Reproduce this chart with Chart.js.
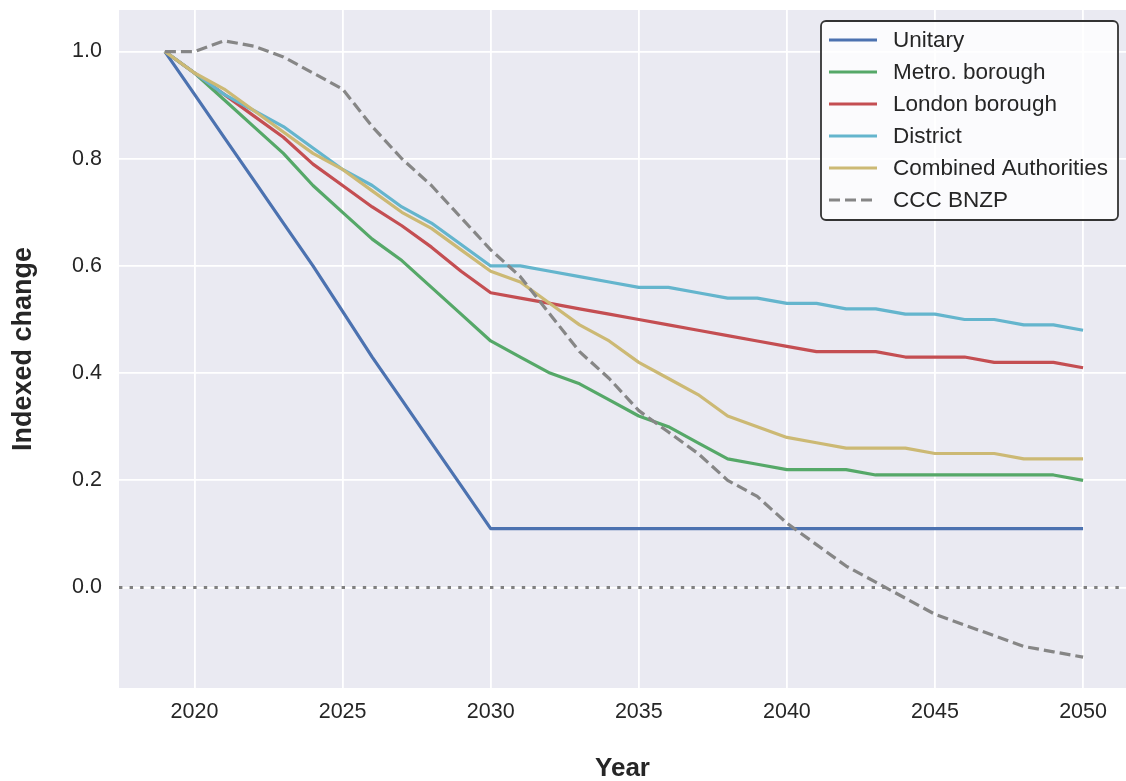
<!DOCTYPE html>
<html>
<head>
<meta charset="utf-8">
<script src="https://cdn.jsdelivr.net/npm/chart.js@4/dist/chart.umd.min.js"></script>
<style>
  html, body { margin: 0; padding: 0; background: #ffffff; overflow: hidden; }
  #wrap { position: relative; width: 1126px; height: 781px; }
</style>
</head>
<body>
<div id="wrap"><canvas id="chart"></canvas></div>
<script>
// Years covered by every series
const years = [2019, 2020, 2021, 2022, 2023, 2024, 2025, 2026, 2027, 2028, 2029, 2030,
  2031, 2032, 2033, 2034, 2035, 2036, 2037, 2038, 2039, 2040,
  2041, 2042, 2043, 2044, 2045, 2046, 2047, 2048, 2049, 2050];

// Indexed emissions by authority type (2019 = 1.0)
const unitary = [1.00, 0.92, 0.84, 0.76, 0.68, 0.60, 0.515, 0.43, 0.35, 0.27, 0.19, 0.11,
  0.11, 0.11, 0.11, 0.11, 0.11, 0.11, 0.11, 0.11, 0.11, 0.11,
  0.11, 0.11, 0.11, 0.11, 0.11, 0.11, 0.11, 0.11, 0.11, 0.11];
const metroBorough = [1.00, 0.96, 0.91, 0.86, 0.81, 0.75, 0.70, 0.65, 0.61, 0.56, 0.51, 0.46,
  0.43, 0.40, 0.38, 0.35, 0.32, 0.30, 0.27, 0.24, 0.23, 0.22,
  0.22, 0.22, 0.21, 0.21, 0.21, 0.21, 0.21, 0.21, 0.21, 0.20];
const londonBorough = [1.00, 0.96, 0.92, 0.88, 0.84, 0.79, 0.75, 0.71, 0.675, 0.635, 0.59, 0.55,
  0.54, 0.53, 0.52, 0.51, 0.50, 0.49, 0.48, 0.47, 0.46, 0.45,
  0.44, 0.44, 0.44, 0.43, 0.43, 0.43, 0.42, 0.42, 0.42, 0.41];
const district = [1.00, 0.96, 0.92, 0.89, 0.86, 0.82, 0.78, 0.75, 0.71, 0.68, 0.64, 0.60,
  0.60, 0.59, 0.58, 0.57, 0.56, 0.56, 0.55, 0.54, 0.54, 0.53,
  0.53, 0.52, 0.52, 0.51, 0.51, 0.50, 0.50, 0.49, 0.49, 0.48];
const combinedAuthorities = [1.00, 0.96, 0.93, 0.89, 0.85, 0.81, 0.78, 0.74, 0.70, 0.67, 0.63, 0.59,
  0.57, 0.53, 0.49, 0.46, 0.42, 0.39, 0.36, 0.32, 0.30, 0.28,
  0.27, 0.26, 0.26, 0.26, 0.25, 0.25, 0.25, 0.24, 0.24, 0.24];
const cccBnzp = [1.00, 1.00, 1.02, 1.01, 0.99, 0.96, 0.93, 0.86, 0.80, 0.75, 0.69, 0.63,
  0.58, 0.51, 0.44, 0.39, 0.33, 0.29, 0.25, 0.20, 0.17, 0.12,
  0.08, 0.04, 0.01, -0.02, -0.05, -0.07, -0.09, -0.11, -0.12, -0.13];

const seriesNames = ['Unitary', 'Metro. borough', 'London borough', 'District', 'Combined Authorities', 'CCC BNZP'];
const seriesValues = [unitary, metroBorough, londonBorough, district, combinedAuthorities, cccBnzp];
const seriesColors = ['#4C72B0', '#55A868', '#C44E52', '#64B5CD', '#CCB974', '#868686'];
const seriesDashes = [[], [], [], [], [], [11, 5]];

// Tick values and the reference level
const xTickStep = 5;
const yTickStep = 0.2;
const referenceLevel = 0;

const TEXT = '#262626';
const FONT = "'Liberation Sans', Arial, sans-serif";

const datasets = seriesNames.map((name, i) => ({
  label: name,
  data: years.map((yr, k) => ({ x: yr, y: seriesValues[i][k] })),
  borderColor: seriesColors[i],
  backgroundColor: seriesColors[i],
  borderWidth: 3.2,
  borderDash: seriesDashes[i],
  borderCapStyle: 'butt',
  borderJoinStyle: 'round',
  pointRadius: 0,
  pointHoverRadius: 0,
  tension: 0,
  fill: false,
  order: seriesNames.length - 1 - i
}));

// Shaded plotting area
const areaBackground = {
  id: 'areaBackground',
  beforeDraw(chart) {
    const { ctx, chartArea: a } = chart;
    ctx.save();
    ctx.fillStyle = '#EAEAF2';
    ctx.fillRect(a.left, a.top, a.right - a.left, a.bottom - a.top);
    ctx.restore();
  }
};

// Dotted horizontal line at the reference level
const referenceLine = {
  id: 'referenceLine',
  beforeDatasetsDraw(chart) {
    const { ctx, chartArea: a, scales } = chart;
    const y = scales.y.getPixelForValue(referenceLevel);
    ctx.save();
    ctx.strokeStyle = '#808080';
    ctx.lineWidth = 3.2;
    ctx.setLineDash([3.4, 7.2]);
    ctx.lineCap = 'butt';
    ctx.beginPath();
    ctx.moveTo(a.left, y);
    ctx.lineTo(a.right, y);
    ctx.stroke();
    ctx.restore();
  }
};

// Framed legend in the upper right corner
const boxedLegend = {
  id: 'boxedLegend',
  afterDatasetsDraw(chart) {
    const { ctx } = chart;
    const x0 = 821, y0 = 21, w = 297, h = 199, r = 5;
    ctx.save();
    ctx.beginPath();
    ctx.roundRect(x0, y0, w, h, r);
    ctx.fillStyle = 'rgba(255,255,255,0.82)';
    ctx.fill();
    ctx.lineWidth = 1.8;
    ctx.strokeStyle = '#333333';
    ctx.stroke();
    ctx.font = '22.5px ' + FONT;
    ctx.textBaseline = 'middle';
    ctx.textAlign = 'left';
    chart.data.datasets.forEach((ds, i) => {
      const cy = 40 + i * 32;
      ctx.strokeStyle = ds.borderColor;
      ctx.lineWidth = 3.2;
      ctx.setLineDash(ds.borderDash || []);
      ctx.lineCap = 'butt';
      ctx.beginPath();
      ctx.moveTo(829, cy);
      ctx.lineTo(877, cy);
      ctx.stroke();
      ctx.setLineDash([]);
      ctx.fillStyle = TEXT;
      ctx.fillText(ds.label, 893, cy + 1);
    });
    ctx.restore();
  }
};

new Chart(document.getElementById('chart'), {
  type: 'line',
  data: { datasets },
  options: {
    responsive: true,
    maintainAspectRatio: false,
    animation: false,
    events: [],
    layout: { padding: { top: 10, right: 0, bottom: 0, left: 0 } },
    plugins: {
      legend: { display: false },
      tooltip: { enabled: false }
    },
    scales: {
      x: {
        type: 'linear',
        min: 2017.45,
        max: 2051.45,
        afterFit(scale) {
          scale.height = 93;
          scale.paddingLeft = 0;
          scale.paddingRight = 0;
        },
        border: { display: false },
        grid: { color: '#ffffff', lineWidth: 1.8, drawTicks: false },
        ticks: {
          stepSize: xTickStep,
          includeBounds: false,
          padding: 11,
          color: TEXT,
          font: { family: FONT, size: 21.5 },
          maxRotation: 0,
          callback: v => String(v)
        },
        title: {
          display: true,
          text: 'Year',
          color: TEXT,
          font: { family: FONT, size: 26, weight: 'bold', lineHeight: 1.0 },
          padding: { top: 0, bottom: -1 }
        }
      },
      y: {
        type: 'linear',
        min: -0.1875,
        max: 1.0775,
        afterFit(scale) {
          scale.width = 119;
          scale.paddingTop = 0;
          scale.paddingBottom = 0;
        },
        border: { display: false },
        grid: { color: '#ffffff', lineWidth: 1.8, drawTicks: false },
        ticks: {
          stepSize: yTickStep,
          includeBounds: false,
          padding: 17,
          color: TEXT,
          font: { family: FONT, size: 21.5 },
          callback: v => Number(v).toFixed(1)
        },
        title: {
          display: true,
          text: 'Indexed change',
          color: TEXT,
          font: { family: FONT, size: 27, weight: 'bold', lineHeight: 1.0 },
          padding: { top: 10, bottom: 0 }
        }
      }
    }
  },
  plugins: [areaBackground, referenceLine, boxedLegend]
});
</script>
</body>
</html>
